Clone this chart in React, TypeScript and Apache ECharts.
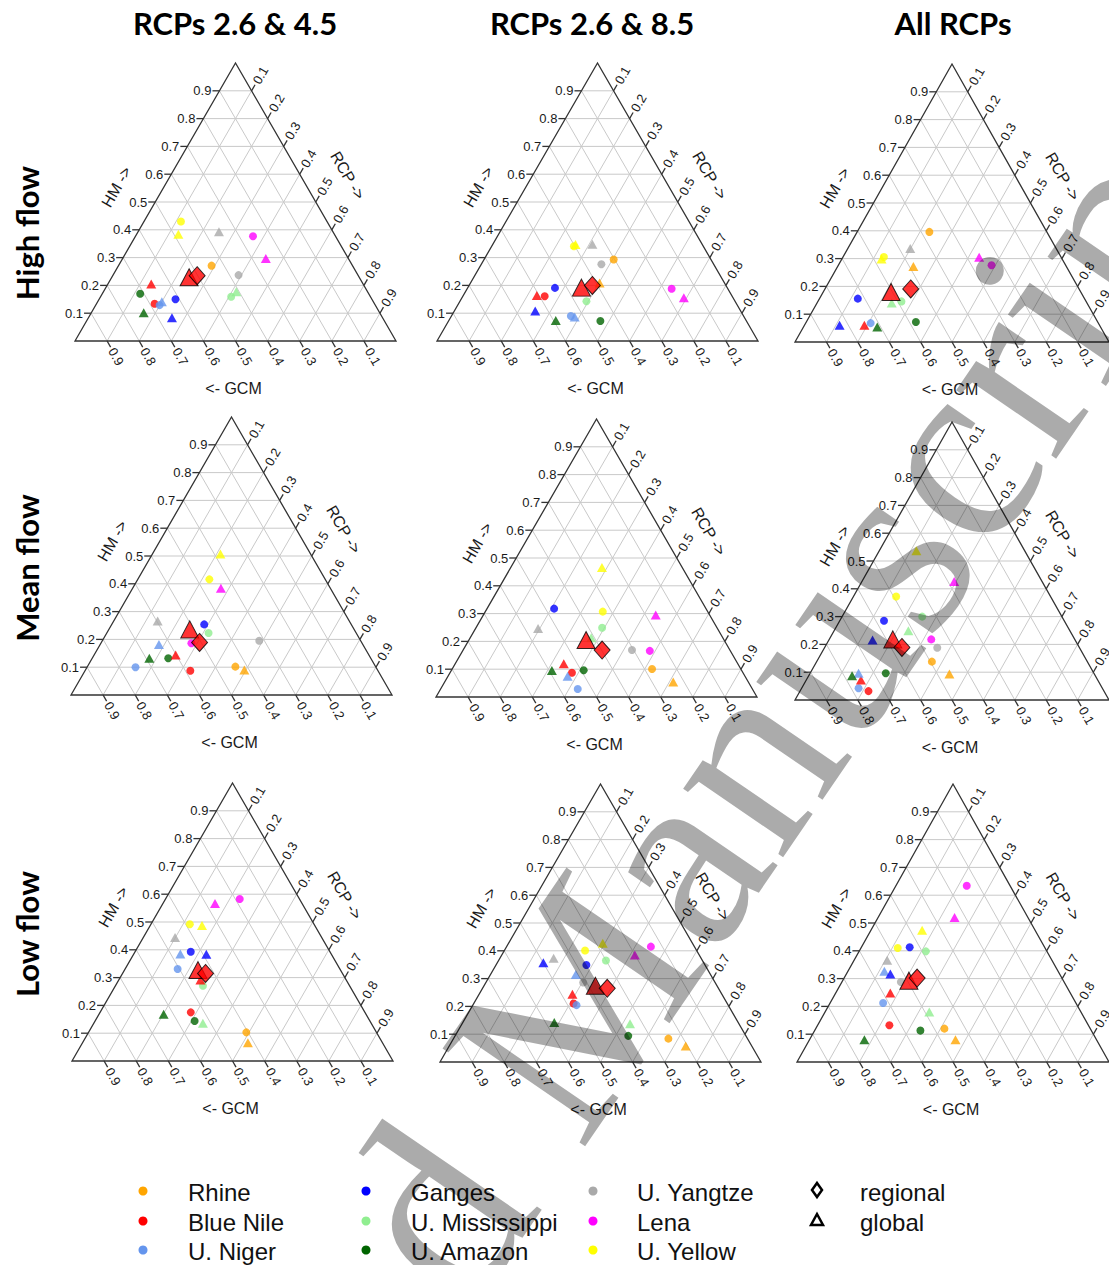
import React, { useEffect, useRef } from "react";
import * as echarts from "echarts";

const S3 = Math.sqrt(3) / 2;
const SIDE = 321;

const BASINS = ["Rhine", "Blue Nile", "U. Niger", "Ganges", "U. Mississippi", "U. Amazon", "U. Yangtze", "Lena", "U. Yellow"];
const BASIN_COLORS = ["#FFA500", "#FF0000", "#6495ED", "#0000FF", "#90EE90", "#006400", "#A9A9A9", "#FF00FF", "#FFFF00"];
const TICK_VALUES = [0.1, 0.2, 0.3, 0.4, 0.5, 0.6, 0.7, 0.8, 0.9];
const TICK_LABELS = ["0.1", "0.2", "0.3", "0.4", "0.5", "0.6", "0.7", "0.8", "0.9"];
const COLUMN_TITLES = ["RCPs 2.6 & 4.5", "RCPs 2.6 & 8.5", "All RCPs"];
const ROW_TITLES = ["High flow", "Mean flow", "Low flow"];
const AXIS_TITLES = ["HM ->", "RCP ->", "<- GCM"];
const SHAPE_LABELS = ["regional", "global"];
const WATERMARK = "Accepted Manuscript";

// Each point is [HM share, RCP share]; GCM share = 1 - HM - RCP. Order follows BASINS; null = not visible.
const HIGH_A_REG = [[0.271, 0.290], [0.134, 0.181], [0.129, 0.199], [0.150, 0.238], [0.159, 0.407], [0.170, 0.118], [0.237, 0.391], [0.377, 0.366], [0.430, 0.115]];
const HIGH_A_GLO = [null, [0.205, 0.135], [0.141, 0.200], [0.084, 0.260], [0.177, 0.414], [0.102, 0.163], [0.393, 0.252], [0.297, 0.446], [0.384, 0.130]];
const HIGH_A_BIG_GLO = [0.229, 0.241];
const HIGH_A_BIG_REG = [0.235, 0.263];

const HIGH_B_REG = [[0.293, 0.404], [0.161, 0.255], [0.090, 0.372], [0.191, 0.272], [0.143, 0.394], [0.072, 0.473], [0.276, 0.374], [0.188, 0.637], [0.341, 0.256]];
const HIGH_B_GLO = [[0.209, 0.402], [0.164, 0.229], [0.086, 0.386], [0.108, 0.252], null, [0.074, 0.333], [0.348, 0.310], [0.156, 0.691], [0.347, 0.258]];
const HIGH_B_BIG_GLO = [0.192, 0.354];
const HIGH_B_BIG_REG = [0.200, 0.384];

const HIGH_C_REG = [[0.396, 0.230], null, [0.068, 0.207], [0.156, 0.122], [0.146, 0.266], [0.072, 0.349], null, [0.276, 0.488], [0.306, 0.130]];
const HIGH_C_GLO = [[0.272, 0.241], [0.060, 0.191], null, [0.060, 0.112], [0.140, 0.238], [0.054, 0.235], [0.336, 0.199], [0.305, 0.434], [0.299, 0.126]];
const HIGH_C_BIG_GLO = [0.180, 0.216];
const HIGH_C_BIG_REG = [0.191, 0.273];

const MEAN_A_REG = [[0.102, 0.461], [0.0875, 0.328], [0.100, 0.151], [0.254, 0.288], [0.223, 0.317], [0.132, 0.237], [0.195, 0.489], [0.186, 0.282], [0.416, 0.223]];
const MEAN_A_GLO = [[0.090, 0.495], [0.144, 0.254], [0.182, 0.183], null, null, [0.132, 0.178], [0.266, 0.137], [0.384, 0.275], [0.507, 0.212]];
const MEAN_A_BIG_GLO = [0.236, 0.252];
const MEAN_A_BIG_REG = [0.189, 0.306];

const MEAN_B_REG = [[0.101, 0.6225], [0.087, 0.380], [0.029, 0.427], [0.318, 0.209], [0.249, 0.393], [0.096, 0.412], [0.169, 0.526], [0.166, 0.583], [0.307, 0.366]];
const MEAN_B_GLO = [[0.054, 0.712], [0.120, 0.338], [0.075, 0.3725], null, [0.213, 0.377], [0.095, 0.3135], [0.246, 0.195], [0.295, 0.537], [0.466, 0.284]];
const MEAN_B_BIG_GLO = [0.205, 0.365];
const MEAN_B_BIG_REG = [0.169, 0.433];

const MEAN_C_REG = [[0.138, 0.367], [0.032, 0.218], [0.042, 0.1815], [0.285, 0.141], [0.300, 0.255], [0.096, 0.241], [0.188, 0.359], [0.218, 0.325], [0.372, 0.136]];
const MEAN_C_GLO = [[0.0935, 0.445], [0.072, 0.174], [0.096, 0.1545], [0.216, 0.139], [0.249, 0.2365], [0.0875, 0.138], null, [0.426, 0.294], [0.537, 0.118]];
const MEAN_C_BIG_GLO = [0.218, 0.2025];
const MEAN_C_BIG_REG = [0.189, 0.246];

const LOW_A_REG = [[0.103, 0.4915], [0.175, 0.2825], [0.331, 0.1635], [0.393, 0.1735], [0.271, 0.2725], [0.144, 0.310], null, [0.583, 0.231], [0.492, 0.121]];
const LOW_A_GLO = [[0.066, 0.515], [0.291, 0.2545], [0.385, 0.145], [0.384, 0.2265], [0.1355, 0.340], [0.168, 0.2015], [0.444, 0.099], [0.567, 0.162], [0.487, 0.1615]];
const LOW_A_BIG_GLO = [0.327, 0.229];
const LOW_A_BIG_REG = [0.315, 0.2585];

const LOW_B_REG = [[0.084, 0.6695], [0.2105, 0.311], [0.2045, 0.323], [0.349, 0.2815], [0.365, 0.3345], [0.094, 0.5395], [0.286, 0.303], [0.415, 0.4495], [0.401, 0.2515]];
const LOW_B_GLO = [[0.058, 0.7365], [0.244, 0.2905], [0.315, 0.2655], [0.357, 0.1435], [0.138, 0.523], [0.142, 0.285], [0.373, 0.1675], [0.385, 0.4145], [0.427, 0.2935]];
const LOW_B_BIG_GLO = [0.274, 0.347];
const LOW_B_BIG_REG = [0.265, 0.3885];

const LOW_C_REG = [[0.120, 0.4125], [0.132, 0.230], [0.212, 0.170], [0.4125, 0.155], [0.398, 0.214], [0.113, 0.339], [0.288, 0.189], [0.634, 0.227], [0.410, 0.118]];
const LOW_C_GLO = [[0.080, 0.468], [0.248, 0.175], [0.326, 0.117], [0.3165, 0.141], [0.180, 0.334], [0.080, 0.176], [0.366, 0.106], [0.520, 0.245], [0.474, 0.164]];
const LOW_C_BIG_GLO = [0.2925, 0.2125];
const LOW_C_BIG_REG = [0.302, 0.234];

const PANEL_DATA = [
  [[HIGH_A_REG, HIGH_A_GLO, HIGH_A_BIG_GLO, HIGH_A_BIG_REG], [HIGH_B_REG, HIGH_B_GLO, HIGH_B_BIG_GLO, HIGH_B_BIG_REG], [HIGH_C_REG, HIGH_C_GLO, HIGH_C_BIG_GLO, HIGH_C_BIG_REG]],
  [[MEAN_A_REG, MEAN_A_GLO, MEAN_A_BIG_GLO, MEAN_A_BIG_REG], [MEAN_B_REG, MEAN_B_GLO, MEAN_B_BIG_GLO, MEAN_B_BIG_REG], [MEAN_C_REG, MEAN_C_GLO, MEAN_C_BIG_GLO, MEAN_C_BIG_REG]],
  [[LOW_A_REG, LOW_A_GLO, LOW_A_BIG_GLO, LOW_A_BIG_REG], [LOW_B_REG, LOW_B_GLO, LOW_B_BIG_GLO, LOW_B_BIG_REG], [LOW_C_REG, LOW_C_GLO, LOW_C_BIG_GLO, LOW_C_BIG_REG]],
];

// layout: base-left x and base y of each triangle
const PANEL_LEFT = [[75, 437, 795], [71, 436, 795], [72, 440, 797]];
const PANEL_BASE = [[341, 341, 342], [695, 697, 700], [1061, 1062, 1062]];

const toXY = (hm: number, rcp: number) => [rcp + hm / 2, hm * S3];

const FONT = "Liberation Sans, Arial, sans-serif";

function frameRender(params: any, api: any) {
  const P = (hm: number, rcp: number) => api.coord(toXY(hm, rcp));
  const ch: any[] = [];
  const ln = (x1: number, y1: number, x2: number, y2: number, stroke: string, w: number) => ({
    type: "line",
    silent: true,
    shape: { x1, y1, x2, y2 },
    style: { stroke, lineWidth: w },
  });
  const tx = (x: number, y: number, text: string, align: string, rotation: number, size: number) => ({
    type: "text",
    silent: true,
    x,
    y,
    rotation,
    style: { text, fontSize: size, fontFamily: FONT, fill: "#1a1a1a", align, verticalAlign: "middle" },
  });
  TICK_VALUES.forEach((v) => {
    const segs = [
      [P(v, 0), P(v, 1 - v)],
      [P(0, v), P(1 - v, v)],
      [P(0, 1 - v), P(1 - v, 0)],
    ];
    segs.forEach(([a, b]) => ch.push(ln(a[0], a[1], b[0], b[1], "#c9c9c9", 1)));
  });
  const A = P(0, 0), B = P(0, 1), C = P(1, 0);
  ch.push({ type: "polygon", silent: true, shape: { points: [A, B, C] }, style: { fill: "none", stroke: "#333", lineWidth: 1.3 } });
  const TL = 7, LG = 9;
  TICK_VALUES.forEach((v, i) => {
    const lab = TICK_LABELS[i];
    const L = P(v, 0);
    ch.push(ln(L[0], L[1], L[0] - TL, L[1], "#333", 1.3));
    ch.push(tx(L[0] - LG + 1, L[1], lab, "right", 0, 13));
    const R = P(1 - v, v);
    ch.push(ln(R[0], R[1], R[0] + TL * 0.5, R[1] - TL * S3, "#333", 1.3));
    ch.push(tx(R[0] + LG * 0.5, R[1] - LG * S3, lab, "left", Math.PI / 3, 13));
    const G = P(0, 1 - v);
    ch.push(ln(G[0], G[1], G[0] + TL * 0.5, G[1] + TL * S3, "#333", 1.3));
    ch.push(tx(G[0] + LG * 0.5, G[1] + LG * S3, lab, "left", -Math.PI / 3, 13));
  });
  const hmP = P(0.48, 0);
  ch.push({ ...tx(hmP[0] - 41 * S3, hmP[1] - 41 * 0.5, AXIS_TITLES[0], "center", Math.PI / 3, 16) });
  const rcpP = P(0.522, 0.478);
  ch.push({ ...tx(rcpP[0] + 41 * S3, rcpP[1] - 41 * 0.5, AXIS_TITLES[1], "center", -Math.PI / 3, 16) });
  const gP = P(0, 0.5);
  ch.push({ ...tx(gP[0] - 2, gP[1] + 47, AXIS_TITLES[2], "center", 0, 16) });
  return { type: "group", children: ch };
}

function buildOption() {
  const grid: any[] = [];
  const xAxis: any[] = [];
  const yAxis: any[] = [];
  const series: any[] = [];
  const H = SIDE * S3;
  for (let r = 0; r < 3; r++) {
    for (let c = 0; c < 3; c++) {
      const idx = r * 3 + c;
      grid.push({ left: PANEL_LEFT[r][c], top: PANEL_BASE[r][c] - H, width: SIDE, height: H });
      xAxis.push({ type: "value", gridIndex: idx, min: 0, max: 1, show: false });
      yAxis.push({ type: "value", gridIndex: idx, min: 0, max: S3, show: false });
      const [reg, glo, bigGlo, bigReg] = PANEL_DATA[r][c] as any;
      series.push({
        type: "custom",
        xAxisIndex: idx,
        yAxisIndex: idx,
        coordinateSystem: "cartesian2d",
        clip: false,
        silent: true,
        z: 1,
        renderItem: frameRender,
        data: [[0.5, 0.4]],
      });
      const mk = (arr: any[]) =>
        arr
          .map((p: any, k: number) => (p ? { value: toXY(p[0], p[1]), itemStyle: { color: BASIN_COLORS[k] } } : null))
          .filter((d: any) => d);
      series.push({ type: "scatter", xAxisIndex: idx, yAxisIndex: idx, symbol: "circle", symbolSize: 8, data: mk(reg), z: 3, silent: true });
      series.push({ type: "scatter", xAxisIndex: idx, yAxisIndex: idx, symbol: "triangle", symbolSize: [10, 9], data: mk(glo), z: 4, silent: true });
      series.push({
        type: "scatter", xAxisIndex: idx, yAxisIndex: idx, symbol: "triangle", symbolSize: [18, 17], z: 5, silent: true,
        itemStyle: { color: "#FF0000", borderColor: "#000", borderWidth: 1 },
        data: [toXY(bigGlo[0], bigGlo[1])],
      });
      series.push({
        type: "scatter", xAxisIndex: idx, yAxisIndex: idx, symbol: "diamond", symbolSize: [16, 18], z: 6, silent: true,
        itemStyle: { color: "#FF0000", borderColor: "#000", borderWidth: 1 },
        data: [toXY(bigReg[0], bigReg[1])],
      });
    }
  }

  const graphic: any[] = [];
  const colX = [235, 592, 953];
  COLUMN_TITLES.forEach((t, i) =>
    graphic.push({ type: "text", x: colX[i], y: 23, style: { text: t, fontSize: 31, fontWeight: "bold", fontFamily: "Lato, sans-serif", fill: "#000", align: "center", verticalAlign: "middle" } })
  );
  const rowY = [233, 568, 934];
  ROW_TITLES.forEach((t, i) =>
    graphic.push({ type: "text", x: 27, y: rowY[i], rotation: Math.PI / 2, style: { text: t, fontSize: 31, fontWeight: "bold", fontFamily: "Lato, sans-serif", fill: "#000", align: "center", verticalAlign: "middle" } })
  );
  const legDotX = [143, 366, 593];
  const legTextX = [188, 411, 637];
  const legY = [1192, 1222, 1251];
  BASINS.forEach((b, k) => {
    const col = Math.floor(k / 3), row = k % 3;
    graphic.push({ type: "circle", shape: { cx: legDotX[col], cy: legY[row] - 1, r: 4.5 }, style: { fill: BASIN_COLORS[k] } });
    graphic.push({ type: "text", x: legTextX[col], y: legY[row], style: { text: b, fontSize: 24, fontFamily: FONT, fill: "#111", align: "left", verticalAlign: "middle" } });
  });
  graphic.push({ type: "polygon", shape: { points: [[817, 1183], [822, 1190], [817, 1197], [812, 1190]] }, style: { fill: "#fff", stroke: "#000", lineWidth: 2.5 } });
  graphic.push({ type: "polygon", shape: { points: [[817, 1214], [823, 1225], [811, 1225]] }, style: { fill: "#fff", stroke: "#000", lineWidth: 2.5 } });
  SHAPE_LABELS.forEach((t, i) =>
    graphic.push({ type: "text", x: 860, y: legY[i], style: { text: t, fontSize: 24, fontFamily: FONT, fill: "#111", align: "left", verticalAlign: "middle" } })
  );
  graphic.push({
    type: "text",
    x: -93,
    y: 1979,
    rotation: 0.97,
    z: 100,
    silent: true,
    style: { text: WATERMARK, fontSize: 264, fontFamily: "Liberation Serif, Times New Roman, serif", fill: "rgba(0,0,0,0.33)", align: "left", verticalAlign: "middle" },
  });

  return { animation: false, backgroundColor: "#fff", grid, xAxis, yAxis, series, graphic };
}

export default function App() {
  const ref = useRef<HTMLDivElement>(null);
  useEffect(() => {
    const chart = echarts.init(ref.current!, null, { renderer: "svg" });
    chart.setOption(buildOption() as any);
    return () => chart.dispose();
  }, []);
  return <div ref={ref} style={{ position: "absolute", left: 0, top: 0, width: 1109, height: 1265, background: "#fff" }} />;
}
